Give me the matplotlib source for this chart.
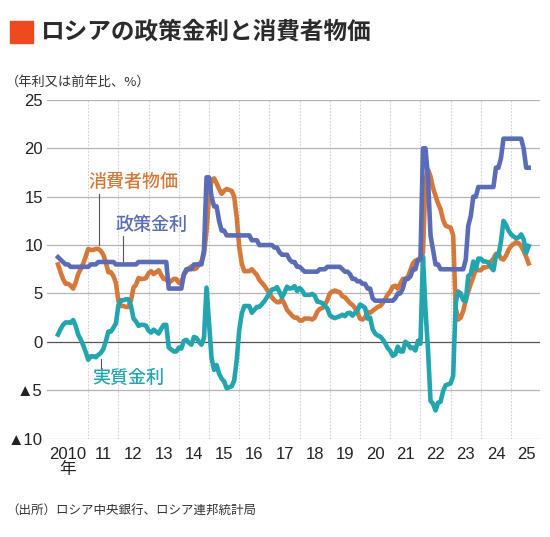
#!/usr/bin/env python3
"""ロシアの政策金利と消費者物価 (2010年1月〜2025年8月、月次)"""
import matplotlib
matplotlib.use("Agg")
import matplotlib.pyplot as plt
from matplotlib.patches import Rectangle
import pandas as pd

# 政策金利 (%, 月末値)
policy_rate = [
    8.75, 8.5, 8.25, 8.0, 8.0, 7.75, 7.75, 7.75, 7.75, 7.75, 7.75, 7.75,
    7.75, 8.0, 8.0, 8.0, 8.25, 8.25, 8.25, 8.25, 8.25, 8.25, 8.25, 8.0,
    8.0, 8.0, 8.0, 8.0, 8.0, 8.0, 8.0, 8.0, 8.25, 8.25, 8.25, 8.25,
    8.25, 8.25, 8.25, 8.25, 8.25, 8.25, 8.25, 8.25, 5.5, 5.5, 5.5, 5.5,
    5.5, 5.5, 7.0, 7.5, 7.5, 7.5, 8.0, 8.0, 8.0, 8.0, 9.5, 17.0,
    17.0, 15.0, 14.0, 14.0, 12.5, 11.5, 11.5, 11.0, 11.0, 11.0, 11.0, 11.0,
    11.0, 11.0, 11.0, 11.0, 11.0, 10.5, 10.5, 10.5, 10.0, 10.0, 10.0, 10.0,
    10.0, 10.0, 9.75, 9.75, 9.25, 9.0, 9.0, 9.0, 8.5, 8.25, 8.25, 7.75,
    7.75, 7.5, 7.25, 7.25, 7.25, 7.25, 7.25, 7.25, 7.5, 7.5, 7.5, 7.75,
    7.75, 7.75, 7.75, 7.75, 7.75, 7.5, 7.25, 7.25, 7.0, 6.5, 6.5, 6.25,
    6.25, 6.0, 6.0, 5.5, 5.5, 4.5, 4.25, 4.25, 4.25, 4.25, 4.25, 4.25,
    4.25, 4.25, 4.5, 5.0, 5.0, 5.5, 6.5, 6.5, 6.75, 7.5, 7.5, 8.5,
    8.5, 20.0, 20.0, 17.0, 11.0, 9.5, 8.0, 8.0, 7.5, 7.5, 7.5, 7.5,
    7.5, 7.5, 7.5, 7.5, 7.5, 7.5, 8.5, 12.0, 13.0, 15.0, 15.0, 16.0,
    16.0, 16.0, 16.0, 16.0, 16.0, 16.0, 18.0, 18.0, 19.0, 21.0, 21.0, 21.0,
    21.0, 21.0, 21.0, 21.0, 21.0, 20.0, 18.0, 18.0,
]

# 消費者物価 (前年比, %)
cpi = [
    8.0, 7.2, 6.5, 6.0, 6.0, 5.8, 5.5, 6.1, 7.0, 7.5, 8.1, 8.8,
    9.6, 9.5, 9.5, 9.6, 9.6, 9.4, 9.0, 8.2, 7.2, 7.2, 6.8, 6.1,
    4.2, 3.7, 3.7, 3.6, 3.6, 4.3, 5.6, 5.9, 6.6, 6.5, 6.5, 6.6,
    7.1, 7.3, 7.0, 7.2, 7.4, 6.9, 6.5, 6.5, 6.1, 6.3, 6.5, 6.5,
    6.1, 6.2, 6.9, 7.3, 7.6, 7.8, 7.5, 7.6, 8.0, 8.3, 9.1, 11.4,
    15.0, 16.7, 16.9, 16.4, 15.8, 15.3, 15.6, 15.8, 15.7, 15.6, 15.0, 12.9,
    9.8, 8.1, 7.3, 7.3, 7.3, 7.5, 7.2, 6.9, 6.4, 6.1, 5.8, 5.4,
    5.0, 4.6, 4.3, 4.1, 4.1, 4.4, 3.9, 3.3, 3.0, 2.7, 2.5, 2.5,
    2.2, 2.2, 2.4, 2.4, 2.4, 2.3, 2.5, 3.1, 3.4, 3.5, 3.8, 4.3,
    5.0, 5.2, 5.3, 5.2, 5.1, 4.7, 4.6, 4.3, 4.0, 3.8, 3.5, 3.0,
    2.4, 2.3, 2.5, 3.1, 3.0, 3.2, 3.4, 3.6, 3.7, 4.0, 4.4, 4.9,
    5.2, 5.7, 5.8, 5.5, 6.0, 6.5, 6.5, 6.7, 7.4, 8.1, 8.4, 8.4,
    8.7, 9.2, 16.7, 17.8, 17.1, 15.9, 15.1, 14.3, 13.7, 12.6, 12.0, 11.9,
    11.8, 11.0, 3.5, 2.3, 2.5, 3.2, 4.3, 5.2, 6.0, 6.7, 7.5, 7.4,
    7.4, 7.7, 7.7, 7.8, 8.3, 8.6, 9.1, 9.1, 8.6, 8.5, 8.9, 9.5,
    9.9, 10.1, 10.3, 10.2, 9.9, 9.4, 8.8, 8.1,
]

# 実質金利 (%)
real_rate = [
    0.75, 1.3, 1.75, 2.0, 2.0, 1.95, 2.25, 1.65, 0.75, 0.25, -0.35, -1.05,
    -1.85, -1.5, -1.5, -1.6, -1.35, -1.15, -0.75, 0.05, 1.05, 1.05, 1.45, 1.9,
    3.8, 4.3, 4.3, 4.4, 4.4, 3.7, 2.4, 2.1, 1.65, 1.75, 1.75, 1.65,
    1.15, 0.95, 1.25, 1.05, 0.85, 1.35, 1.75, 1.75, -0.6, -0.8, -1.0, -1.0,
    -0.6, -0.7, 0.1, 0.2, -0.1, -0.3, 0.5, 0.4, 0.0, -0.3, 0.4, 5.6,
    2.0, -1.7, -2.9, -2.4, -3.3, -3.8, -4.1, -4.8, -4.7, -4.6, -4.0, -1.9,
    1.2, 2.9, 3.7, 3.7, 3.7, 3.0, 3.3, 3.6, 3.6, 3.9, 4.2, 4.6,
    5.0, 5.4, 5.45, 5.65, 5.15, 4.6, 5.1, 5.7, 5.5, 5.55, 5.75, 5.25,
    5.55, 5.3, 4.85, 4.85, 4.85, 4.95, 4.75, 4.15, 4.1, 4.0, 3.7, 3.45,
    2.75, 2.55, 2.45, 2.55, 2.65, 2.8, 2.65, 2.95, 3.0, 2.7, 3.0, 3.25,
    3.85, 3.7, 3.5, 2.4, 2.5, 1.3, 0.85, 0.65, 0.55, 0.25, -0.15, -0.65,
    -0.95, -1.45, -1.3, -0.5, -1.0, -1.0, 0.0, -0.2, -0.65, -0.6, -0.9, 0.1,
    -0.2, 8.8, 3.3, -0.8, -6.1, -6.4, -7.1, -6.3, -6.2, -5.1, -4.5, -4.4,
    -4.3, -3.5, 4.0, 5.2, 5.0, 4.3, 4.2, 6.8, 7.0, 8.3, 7.5, 8.6,
    8.6, 8.3, 8.3, 8.2, 7.7, 7.4, 8.9, 8.9, 10.4, 12.5, 12.1, 11.5,
    11.1, 10.9, 10.7, 10.8, 11.1, 10.6, 9.2, 9.9,
]

years = list(range(2010, 2026))
year_labels = ["2010\n年"] + [f"{y % 100:02d}" for y in years[1:]]
y_ticks = [25, 20, 15, 10, 5, 0, -5, -10]
y_tick_labels = ["25", "20", "15", "10", "5", "0", "▲5", "▲10"]

BLUE = "#5a6cb6"
ORANGE = "#d5783a"
TEAL = "#22a5af"
JP = ["Noto Sans CJK JP", "DejaVu Sans"]
NUM = ["Liberation Sans", "DejaVu Sans"]


def main():
    dates = pd.date_range("2010-01-01", periods=len(cpi), freq="MS")
    t = dates.year + (dates.month - 1) / 12

    fig = plt.figure(figsize=(5.5, 5.37), dpi=100)
    ax = fig.add_axes([0.0855, 0.1834, 0.8964, 0.6304])

    # 目盛り線
    for v in y_ticks:
        ax.axhline(v, color="#555555" if v == 0 else "#b4b4b4", lw=0.9, zorder=1)
    for y in years[1:]:
        ax.axvline(y, color="#cfcfcf", lw=0.8, ls=(0, (1.5, 1.5)), zorder=0)

    ax.plot(t, cpi, color=ORANGE, lw=3.3, solid_joinstyle="round", zorder=3)
    ax.plot(t, real_rate, color=TEAL, lw=3.3, solid_joinstyle="round", zorder=4)
    ax.plot(t, policy_rate, color=BLUE, lw=3.3, solid_joinstyle="round", zorder=5)

    ax.set_xlim(2009.636, 2025.96)
    ax.set_ylim(-10, 25)
    for s in ax.spines.values():
        s.set_visible(False)

    ax.set_yticks(y_ticks)
    ax.set_yticklabels(y_tick_labels, family=NUM, fontsize=12, color="#222222")
    ax.tick_params(axis="y", length=0, pad=3)
    ax.set_xticks([])

    for y, lab in zip(years, year_labels):
        xpos = y + 0.5 if y != 2010 else 2010.33
        ax.text(xpos, -10.9, lab, ha="center", va="top", fontsize=12,
                family=["Liberation Sans", "Noto Sans CJK JP"], color="#222222",
                linespacing=0.95)

    # 系列ラベル
    ax.text(2012.48, 16.5, "消費者物価", color=ORANGE, fontsize=13, family=JP,
            fontweight="medium", ha="center", va="center")
    ax.plot([2011.36, 2011.36], [15.3, 10.0], color="#555555", lw=0.8, zorder=6)
    ax.text(2013.11, 12.07, "政策金利", color=BLUE, fontsize=13, family=JP,
            fontweight="medium", ha="center", va="center")
    ax.plot([2012.15, 2012.15], [10.9, 8.4], color="#555555", lw=0.8, zorder=6)
    ax.text(2012.32, -3.76, "実質金利", color=TEAL, fontsize=13, family=JP,
            fontweight="medium", ha="center", va="center")
    ax.plot([2011.42, 2011.42], [-1.8, -2.7], color="#555555", lw=0.8, zorder=6)

    # タイトル・注記
    fig.patches.append(Rectangle((10 / 550, 1 - 43 / 537), 23 / 550, 22 / 537,
                                 transform=fig.transFigure, color="#ee4a1f"))
    fig.text(40 / 550, 1 - 32 / 537, "ロシアの政策金利と消費者物価", fontsize=17,
             fontweight="bold", family=JP, color="#2b2b2b", va="center", ha="left")
    fig.text(6 / 550, 1 - 82 / 537, "（年利又は前年比、%）", fontsize=9.5,
             family=JP, color="#333333", va="center", ha="left")
    fig.text(6 / 550, 1 - 510 / 537, "（出所）ロシア中央銀行、ロシア連邦統計局",
             fontsize=9, family=JP, color="#333333", va="center", ha="left")

    fig.savefig("out.png", dpi=100, facecolor="white")


if __name__ == "__main__":
    main()
